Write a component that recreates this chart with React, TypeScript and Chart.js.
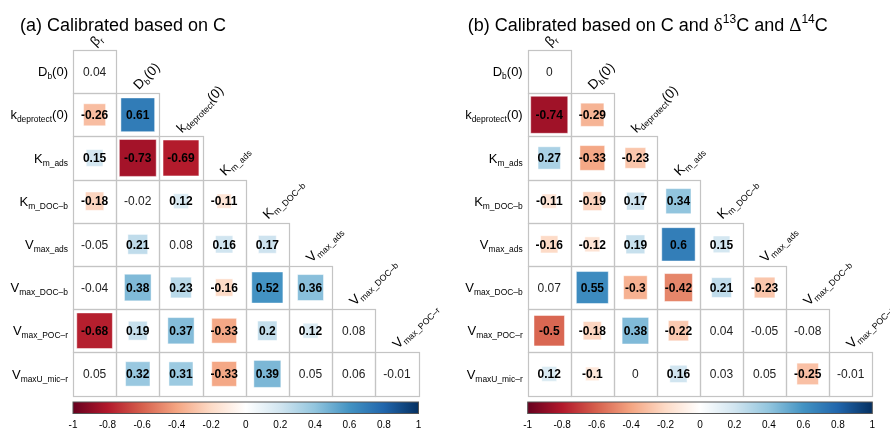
import React, { useEffect, useRef } from 'react';
import { Chart, registerables } from 'chart.js';
Chart.register(...registerables);

type Lab = [string, string, string];

// categories (main letter, subscript, suffix)
const rowLabels: Lab[] = [
  ['D', 'b', '(0)'],
  ['k', 'deprotect', '(0)'],
  ['K', 'm_ads', ''],
  ['K', 'm_DOC–b', ''],
  ['V', 'max_ads', ''],
  ['V', 'max_DOC–b', ''],
  ['V', 'max_POC–r', ''],
  ['V', 'maxU_mic–r', ''],
];
const colLabels: Lab[] = [['β', 'r', ''], ...rowLabels.slice(0, 7)];

// lower-triangle correlation values, row by row
const valuesA: number[][] = [
  [0.04],
  [-0.26, 0.61],
  [0.15, -0.73, -0.69],
  [-0.18, -0.02, 0.12, -0.11],
  [-0.05, 0.21, 0.08, 0.16, 0.17],
  [-0.04, 0.38, 0.23, -0.16, 0.52, 0.36],
  [-0.68, 0.19, 0.37, -0.33, 0.2, 0.12, 0.08],
  [0.05, 0.32, 0.31, -0.33, 0.39, 0.05, 0.06, -0.01],
];
const valuesB: number[][] = [
  [0],
  [-0.74, -0.29],
  [0.27, -0.33, -0.23],
  [-0.11, -0.19, 0.17, 0.34],
  [-0.16, -0.12, 0.19, 0.6, 0.15],
  [0.07, 0.55, -0.3, -0.42, 0.21, -0.23],
  [-0.5, -0.18, 0.38, -0.22, 0.04, -0.05, -0.08],
  [0.12, -0.1, 0, 0.16, 0.03, 0.05, -0.25, -0.01],
];
const colorbarTicks: number[] = [-1, -0.8, -0.6, -0.4, -0.2, 0, 0.2, 0.4, 0.6, 0.8, 1];

type TitlePart = { t: string; sup?: boolean; greek?: boolean };
const titleA: TitlePart[] = [{ t: '(a) Calibrated based on C' }];
const titleB: TitlePart[] = [
  { t: '(b) Calibrated based on C and ' },
  { t: 'δ', greek: true },
  { t: '13', sup: true },
  { t: 'C and ' },
  { t: 'Δ', greek: true },
  { t: '14', sup: true },
  { t: 'C' },
];

const SIG = 0.1;
const FONT = '"Liberation Sans", Arial, Helvetica, sans-serif';
const SERIF = '"Liberation Serif", "DejaVu Serif", serif';
const RDBU = ['#67001F', '#B2182B', '#D6604D', '#F4A582', '#FDDBC7', '#FFFFFF', '#D1E5F0', '#92C5DE', '#4393C3', '#2166AC', '#053061'];

function hex(h: string) {
  return [parseInt(h.slice(1, 3), 16), parseInt(h.slice(3, 5), 16), parseInt(h.slice(5, 7), 16)];
}
function rdbu(v: number): string {
  const t = Math.max(0, Math.min(10, ((v + 1) / 2) * 10));
  const i = Math.min(9, Math.floor(t));
  const f = t - i;
  const a = hex(RDBU[i]);
  const b = hex(RDBU[i + 1]);
  const c = a.map((x, k) => Math.round(x + (b[k] - x) * f));
  return `rgb(${c[0]},${c[1]},${c[2]})`;
}
// squares in the reference render slightly more saturated than the bar
function squareColor(v: number): string {
  const m = Math.min(1, Math.abs(v) * 1.12 + 0.02);
  return rdbu(Math.sign(v) * m);
}

function drawLabel(ctx: CanvasRenderingContext2D, lab: Lab, x: number, y: number, align: 'left' | 'right', size = 13) {
  const mainF = `${size}px ${FONT}`;
  const subF = `${size * 0.65}px ${FONT}`;
  ctx.font = mainF;
  const w1 = ctx.measureText(lab[0]).width;
  const w3 = ctx.measureText(lab[2]).width;
  ctx.font = subF;
  const w2 = ctx.measureText(lab[1]).width;
  const total = w1 + w2 + w3;
  const sx = align === 'right' ? x - total : x;
  ctx.textAlign = 'left';
  ctx.textBaseline = 'alphabetic';
  ctx.font = mainF;
  ctx.fillText(lab[0], sx, y);
  ctx.font = subF;
  ctx.fillText(lab[1], sx + w1, y + 3);
  ctx.font = mainF;
  if (lab[2]) ctx.fillText(lab[2], sx + w1 + w2, y);
}

type PanelProps = {
  values: number[][];
  title: TitlePart[];
  titleX: number;
  pad: { left: number; right: number; top: number; bottom: number };
};

function Panel({ values, title, titleX, pad }: PanelProps) {
  const ref = useRef<HTMLCanvasElement>(null);
  useEffect(() => {
    const points: { x: number; y: number; v: number }[] = [];
    values.forEach((row, i) =>
      row.forEach((v, j) => {
        if (Math.abs(v) >= SIG - 1e-9) points.push({ x: j, y: i, v });
      })
    );

    const plugin = {
      id: 'corrDecor',
      beforeDatasetsDraw(chart: any) {
        const { ctx } = chart;
        const xs = chart.scales.x;
        const ys = chart.scales.y;
        ctx.save();
        ctx.strokeStyle = '#C4C4C4';
        ctx.lineWidth = 1.2;
        values.forEach((row, i) =>
          row.forEach((_v, j) => {
            const x0 = Math.round(xs.getPixelForValue(j - 0.5));
            const x1 = Math.round(xs.getPixelForValue(j + 0.5));
            const y0 = Math.round(ys.getPixelForValue(i - 0.5));
            const y1 = Math.round(ys.getPixelForValue(i + 0.5));
            ctx.strokeRect(x0 + 0.5, y0 + 0.5, x1 - x0, y1 - y0);
          })
        );
        ctx.restore();
      },
      afterDatasetsDraw(chart: any) {
        const { ctx, chartArea } = chart;
        const xs = chart.scales.x;
        const ys = chart.scales.y;
        ctx.save();
        ctx.fillStyle = '#000';
        // numbers
        values.forEach((row, i) =>
          row.forEach((v, j) => {
            const cx = xs.getPixelForValue(j);
            const cy = ys.getPixelForValue(i);
            const sig = Math.abs(v) >= SIG - 1e-9;
            ctx.font = `${sig ? 'bold ' : ''}12px ${FONT}`;
            ctx.fillStyle = sig ? '#000' : '#222';
            ctx.textAlign = 'center';
            ctx.textBaseline = 'alphabetic';
            ctx.fillText(String(v), cx, cy + 4.3);
          })
        );
        ctx.fillStyle = '#000';
        // row labels
        rowLabels.forEach((lab, i) => {
          const cy = ys.getPixelForValue(i);
          drawLabel(ctx, lab, xs.getPixelForValue(-0.5) - 5, cy + 4.6, 'right');
        });
        // column labels
        colLabels.forEach((lab, j) => {
          const cx = xs.getPixelForValue(j);
          const top = ys.getPixelForValue(j - 0.5);
          ctx.save();
          ctx.translate(cx + 1, top - 3);
          ctx.rotate(-Math.PI / 4);
          drawLabel(ctx, lab, 0, 0, 'left', 13.5);
          ctx.restore();
        });
        // colorbar
        const x0 = xs.getPixelForValue(-0.5);
        const x1 = xs.getPixelForValue(7.5);
        const by = chartArea.bottom + 6.5;
        const bh = 11.5;
        const grad = ctx.createLinearGradient(x0, 0, x1, 0);
        RDBU.forEach((c, k) => grad.addColorStop(k / 10, c));
        ctx.fillStyle = grad;
        ctx.fillRect(x0, by, x1 - x0, bh);
        ctx.strokeStyle = '#555';
        ctx.lineWidth = 1;
        ctx.strokeRect(x0, by, x1 - x0, bh);
        ctx.fillStyle = '#000';
        ctx.font = `10px ${FONT}`;
        ctx.textAlign = 'center';
        ctx.textBaseline = 'alphabetic';
        colorbarTicks.forEach((t) => {
          const x = x0 + ((t + 1) / 2) * (x1 - x0);
          ctx.fillText(String(t), x, 428);
        });
        // title
        let tx = titleX;
        ctx.textAlign = 'left';
        title.forEach((p) => {
          ctx.font = p.sup ? `12px ${FONT}` : p.greek ? `19px ${SERIF}` : `18px ${FONT}`;
          ctx.fillText(p.t, tx, p.sup ? 23 : 30.5);
          tx += ctx.measureText(p.t).width;
        });
        ctx.restore();
      },
    };

    const chart = new Chart(ref.current!, {
      type: 'scatter',
      data: {
        datasets: [
          {
            data: points as any,
            pointStyle: 'rect',
            pointRadius: (c: any) => {
              const raw = c.raw;
              if (!raw) return 0;
              const xs = c.chart.scales.x;
              const cell = Math.abs(xs.getPixelForValue(1) - xs.getPixelForValue(0));
              return (Math.sqrt(Math.abs(raw.v)) * cell) / Math.SQRT2;
            },
            backgroundColor: (c: any) => (c.raw ? squareColor(c.raw.v) : 'transparent'),
            borderColor: 'rgba(255,255,255,0.6)',
            borderWidth: 0.8,
            clip: false as any,
          } as any,
        ],
      },
      options: {
        animation: false,
        responsive: false,
        events: [],
        layout: { padding: pad },
        scales: {
          x: { type: 'linear', min: -0.5, max: 7.5, display: false },
          y: { type: 'linear', min: -0.5, max: 7.5, reverse: true, display: false },
        },
        plugins: { legend: { display: false }, tooltip: { enabled: false }, title: { display: false } },
      },
      plugins: [plugin as any],
    });
    return () => chart.destroy();
  }, []);
  return <canvas ref={ref} width={445} height={429} style={{ display: 'block', width: 445, height: 429 }} />;
}

export default function App() {
  return (
    <div style={{ position: 'absolute', left: 0, top: 0, width: 890, height: 429, display: 'flex', background: '#fff' }}>
      <Panel values={valuesA} title={titleA} titleX={20} pad={{ left: 73, right: 26.5, top: 50, bottom: 33.5 }} />
      <Panel values={valuesB} title={titleB} titleX={22.7} pad={{ left: 82.7, right: 17.7, top: 50, bottom: 33.5 }} />
    </div>
  );
}
